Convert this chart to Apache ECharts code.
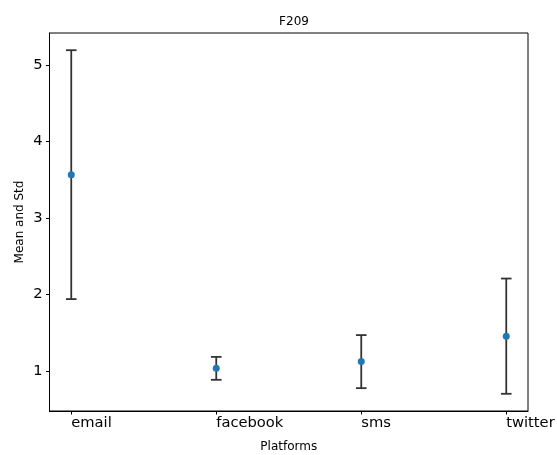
<!DOCTYPE html>
<html>
<head>
<meta charset="utf-8">
<script src="https://cdn.jsdelivr.net/npm/echarts@6/dist/echarts.min.js"></script>
<style>html,body{margin:0;padding:0;background:#fff;}#c{width:557px;height:455px;}</style>
</head>
<body>
<div id="c"></div>
<script>
const categories = ['email', 'facebook', 'sms', 'twitter'];
const means = [3.567, 1.033, 1.121, 1.454];
const stds = [1.628, 0.150, 0.347, 0.754];
const yTicks = [1, 2, 3, 4, 5];
const xTicks = [0, 1, 2, 3];

const errData = categories.map((c, i) => [i, means[i], stds[i]]);
const meanData = categories.map((c, i) => [i, means[i]]);
const font = 'DejaVu Sans';

const chart = echarts.init(document.getElementById('c'), null, {renderer: 'canvas'});
chart.setOption({
  animation: false,
  backgroundColor: '#fff',
  title: {
    text: 'F209', left: 289, top: 11, textAlign: 'center',
    textStyle: {fontFamily: font, fontSize: 12, fontWeight: 'normal', color: '#000'}
  },
  grid: {left: 49.5, right: 29, top: 33, bottom: 44, show: true, borderColor: '#000', borderWidth: 1,
    backgroundColor: 'transparent', containLabel: false, outerBoundsMode: 'none'},
  xAxis: {
    type: 'value', min: -0.15, max: 3.15,
    name: 'Platforms', nameLocation: 'middle', nameGap: 30,
    nameTextStyle: {fontFamily: font, fontSize: 12, color: '#000'},
    axisLine: {show: true, onZero: false, lineStyle: {color: '#000', width: 1}},
    axisTick: {show: true, length: 3.5, lineStyle: {color: '#000'}, customValues: xTicks},
    axisLabel: {fontFamily: font, fontSize: 14.7, color: '#000', margin: 5, align: 'left',
      customValues: xTicks, formatter: v => categories[Math.round(v)] || ''},
    splitLine: {show: false}
  },
  yAxis: {
    type: 'value', min: 0.475, max: 5.42,
    name: 'Mean and Std', nameLocation: 'middle', nameGap: 24, nameMoveOverlap: false,
    nameTextStyle: {fontFamily: font, fontSize: 12, color: '#000'},
    axisLine: {show: true, onZero: false, lineStyle: {color: '#000', width: 1}},
    axisTick: {show: true, length: 3.5, lineStyle: {color: '#000'}, customValues: yTicks},
    axisLabel: {fontFamily: font, fontSize: 14.7, color: '#000', margin: 7, customValues: yTicks},
    splitLine: {show: false}
  },
  series: [
    {
      type: 'custom',
      data: errData,
      renderItem: function (params, api) {
        const x = api.value(0), m = api.value(1), s = api.value(2);
        const top = api.coord([x, m + s]);
        const bot = api.coord([x, m - s]);
        const cap = 5.3;
        const st = {stroke: '#333', lineWidth: 1.8};
        return {
          type: 'group',
          children: [
            {type: 'line', shape: {x1: top[0], y1: top[1], x2: bot[0], y2: bot[1]}, style: st},
            {type: 'line', shape: {x1: top[0] - cap, y1: top[1], x2: top[0] + cap, y2: top[1]}, style: st},
            {type: 'line', shape: {x1: bot[0] - cap, y1: bot[1], x2: bot[0] + cap, y2: bot[1]}, style: st}
          ]
        };
      },
      z: 2
    },
    {
      type: 'scatter',
      data: meanData,
      symbol: 'circle',
      symbolSize: 7,
      itemStyle: {color: '#1f77b4', opacity: 1},
      z: 3
    }
  ]
});
</script>
</body>
</html>
